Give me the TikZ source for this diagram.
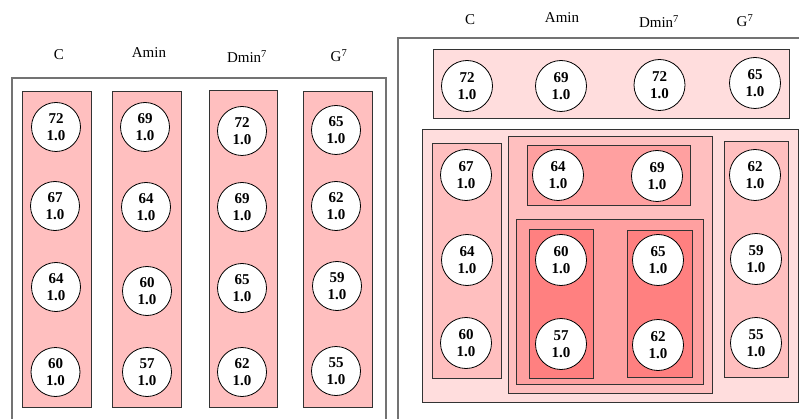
\documentclass[tikz,border=0pt]{standalone}
\usepackage{fontspec}
\setmainfont{Liberation Serif}
\definecolor{shadeA}{HTML}{FFDDDD}
\definecolor{shadeB}{HTML}{FFBFBF}
\definecolor{shadeC}{HTML}{FFA0A0}
\definecolor{shadeD}{HTML}{FF8080}
\begin{document}
\begin{tikzpicture}[x=1pt,y=-1pt,
    note/.style={circle,draw,fill=white,minimum size=49pt,inner sep=0pt,
      align=center,line width=0.8pt,font=\fontsize{15}{16.5}\selectfont\bfseries},
    bignote/.style={note,minimum size=51pt},
    chord/.style={anchor=base,font=\fontsize{15}{18}\selectfont},
    panel/.style={draw=black!55,line width=1.3pt},
    grp/.style={draw=black!80,line width=0.8pt}]

      \useasboundingbox (0,0) rectangle (799,419);

      % flat voicing: one column per chord
      \draw[panel] (12,78) rectangle (386,425);
      \node[chord] (hlC) at (59,60) {C};
      \node[chord] (hlA) at (149,58) {Amin};
      \node[chord] (hlD) at (247,63) {Dmin\textsuperscript{7}};
      \node[chord] (hlG) at (339,62) {G\textsuperscript{7}};

      \draw[grp,fill=shadeB] (22,91) rectangle (91,407);
      \draw[grp,fill=shadeB] (112,91) rectangle (181,407);
      \draw[grp,fill=shadeB] (209,90) rectangle (277,407);
      \draw[grp,fill=shadeB] (303,91) rectangle (372,407);

      \node[note] (lC1) at (56,127) {72\\1.0};
      \node[note] (lC2) at (55,206) {67\\1.0};
      \node[note] (lC3) at (56,287) {64\\1.0};
      \node[note] (lC4) at (55.5,372) {60\\1.0};

      \node[note] (lA1) at (145,127) {69\\1.0};
      \node[note] (lA2) at (146,207) {64\\1.0};
      \node[note] (lA3) at (147,291) {60\\1.0};
      \node[note] (lA4) at (147,372) {57\\1.0};

      \node[note] (lD1) at (242,131) {72\\1.0};
      \node[note] (lD2) at (242,207) {69\\1.0};
      \node[note] (lD3) at (242,288) {65\\1.0};
      \node[note] (lD4) at (242,372) {62\\1.0};

      \node[note] (lG1) at (336,130) {65\\1.0};
      \node[note] (lG2) at (336,206) {62\\1.0};
      \node[note] (lG3) at (337,286) {59\\1.0};
      \node[note] (lG4) at (336,371) {55\\1.0};

      % nested grouping of the same voices
      \draw[panel] (398,38) rectangle (802,425);
      \node[chord] (hrC) at (470,25) {C};
      \node[chord] (hrA) at (562,23) {Amin};
      \node[chord] (hrD) at (659,28) {Dmin\textsuperscript{7}};
      \node[chord] (hrG) at (745,27) {G\textsuperscript{7}};

      \draw[grp,fill=shadeA] (433,49) rectangle (789,118);
      \node[bignote] (r1) at (467,86) {72\\1.0};
      \node[bignote] (r2) at (561,86) {69\\1.0};
      \node[bignote] (r3) at (659.5,85) {72\\1.0};
      \node[bignote] (r4) at (755,83) {65\\1.0};

      \draw[grp,fill=shadeA] (422,129) rectangle (798,402);

      \draw[grp,fill=shadeB] (432,143) rectangle (501,378);
      \node[bignote] (rC1) at (466,175) {67\\1.0};
      \node[bignote] (rC2) at (467,260) {64\\1.0};
      \node[bignote] (rC3) at (466,343) {60\\1.0};

      \draw[grp,fill=shadeB] (508,136) rectangle (712,393);
      \draw[grp,fill=shadeC] (527,145) rectangle (690,205);
      \node[bignote] (rT1) at (558,175) {64\\1.0};
      \node[bignote] (rT2) at (657,176) {69\\1.0};

      \draw[grp,fill=shadeC] (516,219) rectangle (703,384);
      \draw[grp,fill=shadeD] (529,229) rectangle (593,378);
      \draw[grp,fill=shadeD] (627,230) rectangle (692,377);
      \node[bignote] (rA1) at (561,260) {60\\1.0};
      \node[bignote] (rA2) at (561,344) {57\\1.0};
      \node[bignote] (rD1) at (658,260) {65\\1.0};
      \node[bignote] (rD2) at (658,345) {62\\1.0};

      \draw[grp,fill=shadeB] (724,141) rectangle (788,377);
      \node[bignote] (rG1) at (755,175) {62\\1.0};
      \node[bignote] (rG2) at (756,259) {59\\1.0};
      \node[bignote] (rG3) at (756,343) {55\\1.0};
    \end{tikzpicture}
\end{document}
